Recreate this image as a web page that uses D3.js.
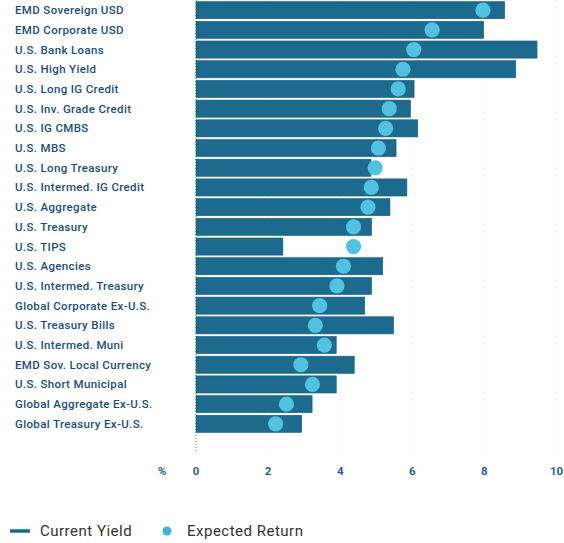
<!DOCTYPE html>
<html>
<head>
<meta charset="utf-8">
<script src="https://cdn.jsdelivr.net/npm/d3@7.9.0/dist/d3.min.js"></script>
<style>
  body { margin: 0; background: #fff; }
  svg { display: block; font-family: Roboto, "Noto Sans", sans-serif; }
</style>
</head>
<body>
<svg id="chart" width="564" height="543"></svg>
<script>
// categories, top to bottom
const categories = [
  "EMD Sovereign USD", "EMD Corporate USD", "U.S. Bank Loans", "U.S. High Yield",
  "U.S. Long IG Credit", "U.S. Inv. Grade Credit", "U.S. IG CMBS", "U.S. MBS",
  "U.S. Long Treasury", "U.S. Intermed. IG Credit", "U.S. Aggregate", "U.S. Treasury",
  "U.S. TIPS", "U.S. Agencies", "U.S. Intermed. Treasury", "Global Corporate Ex-U.S.",
  "U.S. Treasury Bills", "U.S. Intermed. Muni", "EMD Sov. Local Currency",
  "U.S. Short Municipal", "Global Aggregate Ex-U.S.", "Global Treasury Ex-U.S."
];

// current yield (%)
const currentYield = [
  8.56, 7.98, 9.46, 8.87, 6.05, 5.95, 6.15, 5.55, 4.85, 5.85, 5.38,
  4.87, 2.41, 5.18, 4.87, 4.68, 5.48, 3.89, 4.39, 3.89, 3.22, 2.93
];

// expected return (%)
const expectedReturn = [
  7.96, 6.55, 6.04, 5.74, 5.61, 5.36, 5.26, 5.06, 4.97, 4.86, 4.77,
  4.37, 4.37, 4.09, 3.91, 3.43, 3.31, 3.56, 2.91, 3.23, 2.51, 2.21
];

const xTicks = [0, 2, 4, 6, 8, 10];

const barColor = "#1c6b8e";
const dotColor = "#52c2e2";
const labelColor = "#1d4d7c";

const svg = d3.select("#chart");

const x = d3.scaleLinear().domain([0, 10]).range([196, 556.5]);
const y = d3.scaleBand().domain(categories).range([1, 433]).paddingInner(0.13).paddingOuter(0.03);

// faint dotted gridlines
svg.append("g")
  .selectAll("line")
  .data(xTicks.filter(d => d > 0))
  .join("line")
  .attr("x1", d => x(d)).attr("x2", d => x(d))
  .attr("y1", 0).attr("y2", 450)
  .attr("stroke", "#e4e4e4")
  .attr("stroke-width", 1)
  .attr("stroke-dasharray", "1,6");

// zero line
svg.append("line")
  .attr("x1", x(0)).attr("x2", x(0))
  .attr("y1", 0).attr("y2", 452)
  .attr("stroke", "#3a7aa8")
  .attr("stroke-width", 1)
  .attr("stroke-dasharray", "1,2");

// category labels
svg.append("g")
  .selectAll("text")
  .data(categories)
  .join("text")
  .attr("x", 15)
  .attr("y", d => y(d) + y.bandwidth() / 2)
  .attr("dy", "0.35em")
  .attr("fill", labelColor)
  .attr("font-size", 11.5)
  .attr("font-weight", 500)
  .attr("letter-spacing", 0.35)
  .text(d => d);

// bars
svg.append("g")
  .selectAll("rect")
  .data(categories)
  .join("rect")
  .attr("x", x(0))
  .attr("y", d => y(d))
  .attr("width", (d, i) => x(currentYield[i]) - x(0))
  .attr("height", y.bandwidth())
  .attr("fill", barColor)
  .attr("stroke", "#1a5d80")
  .attr("stroke-width", 0.6);

// expected return dots
svg.append("g")
  .selectAll("circle")
  .data(categories)
  .join("circle")
  .attr("cx", (d, i) => x(expectedReturn[i]))
  .attr("cy", d => y(d) + y.bandwidth() / 2)
  .attr("r", 7.6)
  .attr("fill", dotColor);

// x axis tick labels
const axis = svg.append("g").attr("transform", "translate(0,471)");
axis.selectAll("text")
  .data(xTicks)
  .join("text")
  .attr("x", d => x(d))
  .attr("dy", "0.35em")
  .attr("text-anchor", "middle")
  .attr("fill", "#2b5f8e")
  .attr("font-size", 11.5)
  .attr("font-weight", 700)
  .text(d => d);
axis.append("text")
  .attr("x", 162)
  .attr("dy", "0.35em")
  .attr("text-anchor", "middle")
  .attr("fill", "#2b5f8e")
  .attr("font-size", 11.5)
  .attr("font-weight", 700)
  .text("%");

// legend
const legend = svg.append("g").attr("transform", "translate(0,531)");
legend.append("line")
  .attr("x1", 10).attr("x2", 30)
  .attr("stroke", barColor)
  .attr("stroke-width", 3.5);
legend.append("text")
  .attr("x", 40).attr("dy", "0.35em")
  .attr("fill", "#333")
  .attr("font-size", 15)
  .attr("letter-spacing", 0.5)
  .text("Current Yield");
legend.append("circle")
  .attr("cx", 167).attr("r", 4.5)
  .attr("fill", "#3db3dd");
legend.append("text")
  .attr("x", 187).attr("dy", "0.35em")
  .attr("fill", "#333")
  .attr("font-size", 15)
  .attr("letter-spacing", 0.5)
  .text("Expected Return");
</script>
</body>
</html>
